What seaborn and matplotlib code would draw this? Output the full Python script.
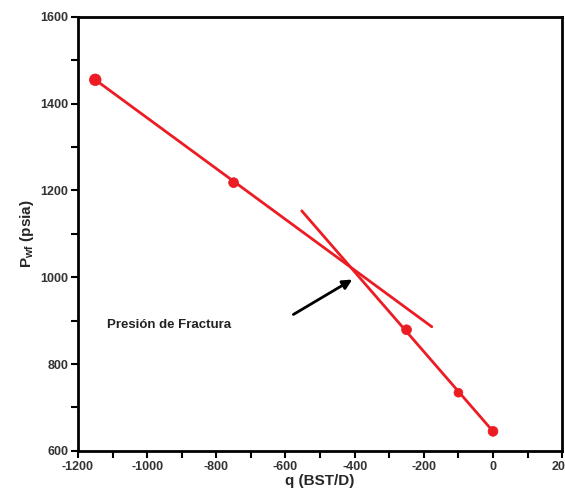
import matplotlib
matplotlib.use("Agg")
import matplotlib.pyplot as plt
import seaborn as sns

# Datos
q = [-1150, -750, -250, -100, 0]
pwf = [1455, 1218, 879, 734, 645]
tamanos = [70, 50, 50, 40, 50]

# Rectas de ajuste (extremos)
recta1_q = [-1150, -177]
recta1_p = [1455, 886]
recta2_q = [-553, 0]
recta2_p = [1153, 645]

flecha_punta = (-400, 998)
flecha_cola = (-584, 911)
texto_pos = (-1116, 890)

sns.set_style("white")
plt.rcParams['font.family'] = ['Liberation Sans', 'DejaVu Sans']
plt.rcParams['axes.unicode_minus'] = False

rojo = '#ec1c24'
fig = plt.figure(figsize=(5.65, 4.96), dpi=100)
ax = fig.add_axes([0.138, 0.091, 0.857, 0.875])

sns.lineplot(x=recta1_q, y=recta1_p, color=rojo, lw=2, ax=ax)
sns.lineplot(x=recta2_q, y=recta2_p, color=rojo, lw=2, ax=ax)
sns.scatterplot(x=q, y=pwf, size=tamanos, sizes=(40, 70), color=rojo,
                edgecolor=rojo, legend=False, ax=ax, zorder=3)

ax.annotate('', xy=flecha_punta, xytext=flecha_cola,
            arrowprops=dict(arrowstyle='-|>', color='black', lw=2,
                            mutation_scale=14))
ax.text(texto_pos[0], texto_pos[1], 'Presión de Fractura', fontsize=9.5,
        fontweight='bold', color='#222222', va='center')

ax.set_xlim(-1200, 200)
ax.set_ylim(600, 1600)
ax.set_xticks(range(-1200, 201, 200))
ax.set_xticks(range(-1100, 200, 200), minor=True)
ax.set_yticks(range(600, 1601, 200))
ax.set_yticks(range(700, 1600, 200), minor=True)
ax.tick_params(axis='both', which='both', direction='out', length=5, width=1.5,
               color='black', labelsize=9, labelcolor='#333333', pad=2)
ax.tick_params(bottom=True, left=True, top=False, right=False, which='both')
for lab in ax.get_xticklabels() + ax.get_yticklabels():
    lab.set_fontweight('bold')

for s in ax.spines.values():
    s.set_linewidth(2)
    s.set_color('black')

ax.set_xlabel('q (BST/D)', fontsize=11, fontweight='bold', labelpad=1)
ax.set_ylabel(r'P$\mathregular{_{wf}}$ (psia)', fontsize=11, fontweight='bold',
              labelpad=3)

fig.savefig('out.png', dpi=100)
